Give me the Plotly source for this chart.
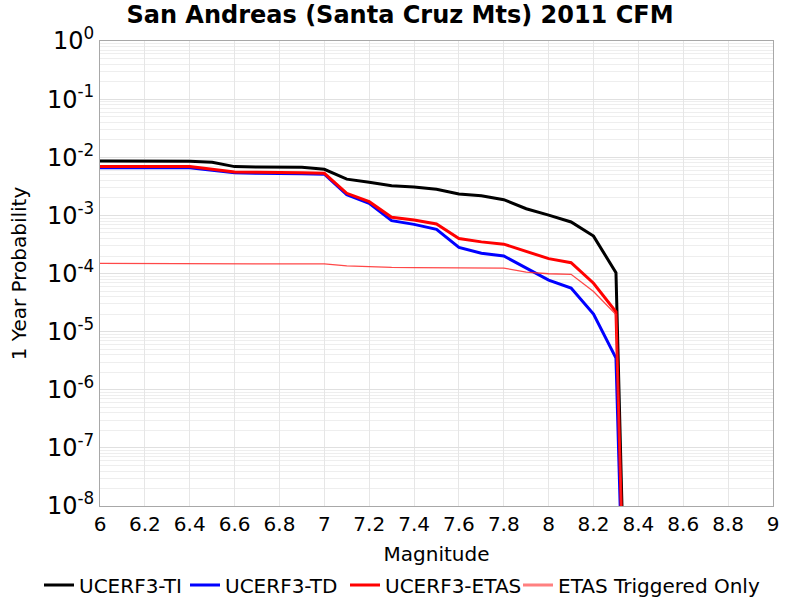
import plotly.graph_objects as go

magnitudes = [6.0, 6.1, 6.2, 6.3, 6.4, 6.5, 6.6, 6.7, 6.8, 6.9, 7.0, 7.1, 7.2,
              7.3, 7.4, 7.5, 7.6, 7.7, 7.8, 7.9, 8.0, 8.1, 8.2, 8.3, 8.4]

ucerf3_ti = [8.6e-3, 8.6e-3, 8.6e-3, 8.6e-3, 8.5e-3, 8.2e-3, 6.9e-3, 6.8e-3, 6.8e-3,
             6.7e-3, 6.2e-3, 4.2e-3, 3.7e-3, 3.24e-3, 3.08e-3, 2.81e-3, 2.33e-3,
             2.18e-3, 1.86e-3, 1.30e-3, 1.01e-3, 7.7e-4, 4.4e-4, 1.03e-4, 1e-19]

ucerf3_td = [6.6e-3, 6.6e-3, 6.6e-3, 6.6e-3, 6.6e-3, 6.0e-3, 5.4e-3, 5.3e-3, 5.3e-3,
             5.2e-3, 5.1e-3, 2.27e-3, 1.61e-3, 8.1e-4, 7.0e-4, 5.75e-4, 2.82e-4,
             2.23e-4, 2.0e-4, 1.23e-4, 7.7e-5, 5.6e-5, 2.0e-5, 3.5e-6, 1e-19]

ucerf3_etas = [6.9e-3, 6.9e-3, 6.9e-3, 6.9e-3, 6.9e-3, 6.2e-3, 5.6e-3, 5.5e-3, 5.5e-3,
               5.4e-3, 5.3e-3, 2.4e-3, 1.72e-3, 9.3e-4, 8.3e-4, 7.1e-4, 4.0e-4,
               3.5e-4, 3.2e-4, 2.37e-4, 1.80e-4, 1.53e-4, 6.8e-5, 2.2e-5, 1e-19]

etas_triggered = [1.49e-4, 1.49e-4, 1.49e-4, 1.49e-4, 1.49e-4, 1.48e-4, 1.47e-4, 1.47e-4,
                  1.47e-4, 1.47e-4, 1.46e-4, 1.35e-4, 1.30e-4, 1.27e-4, 1.26e-4, 1.26e-4,
                  1.25e-4, 1.25e-4, 1.24e-4, 1.06e-4, 9.9e-5, 9.7e-5, 4.9e-5, 1.97e-5, 1e-19]

y_tick_vals = [1e-8, 1e-7, 1e-6, 1e-5, 1e-4, 1e-3, 1e-2, 1e-1, 1e0]
y_tick_text = ["10<sup>-8</sup>", "10<sup>-7</sup>", "10<sup>-6</sup>", "10<sup>-5</sup>",
               "10<sup>-4</sup>", "10<sup>-3</sup>", "10<sup>-2</sup>", "10<sup>-1</sup>",
               "10<sup>0</sup>"]

# name, values, line color, line width, legend id, legend symbol color
series = [
    ("UCERF3-TI", ucerf3_ti, "black", 3, "legend", "black"),
    ("UCERF3-TD", ucerf3_td, "blue", 3, "legend2", "blue"),
    ("UCERF3-ETAS", ucerf3_etas, "red", 3, "legend3", "red"),
    ("ETAS Triggered Only", etas_triggered, "rgba(255,40,40,0.85)", 1.3, "legend4", "#ff8080"),
]
legend_left_px = [39, 185, 345, 518]

font_family = "DejaVu Sans"
fig = go.Figure()
for name, vals, color, width, leg, legcolor in series:
    thin = width < 2
    fig.add_trace(go.Scatter(x=magnitudes, y=vals, mode="lines", name=name,
                             line=dict(color=color, width=width),
                             showlegend=not thin, legend=leg))
    if thin:
        # legend-only entry drawn with the reference's thicker, lighter key line
        fig.add_trace(go.Scatter(x=[None], y=[None], mode="lines", name=name,
                                 line=dict(color=legcolor, width=3), legend=leg,
                                 hoverinfo="skip"))

legend_common = dict(orientation="h", xref="container", xanchor="left",
                     yref="container", y=1 - 585 / 600, yanchor="middle",
                     font=dict(size=20, family=font_family, color="black"),
                     bgcolor="rgba(0,0,0,0)", borderwidth=0)

fig.update_layout(
    width=800, height=600,
    margin=dict(l=100, r=27, t=41, b=94, autoexpand=False),
    paper_bgcolor="white", plot_bgcolor="white",
    font=dict(family=font_family, color="black", size=20),
    title=dict(text="<b>San Andreas (Santa Cruz Mts) 2011 CFM</b>",
               x=0.5, xref="container", xanchor="center",
               y=1 - 15 / 600, yref="container", yanchor="middle",
               font=dict(size=24, family=font_family, color="black")),
    showlegend=True,
    legend=dict(x=legend_left_px[0] / 800, **legend_common),
    legend2=dict(x=legend_left_px[1] / 800, **legend_common),
    legend3=dict(x=legend_left_px[2] / 800, **legend_common),
    legend4=dict(x=legend_left_px[3] / 800, **legend_common),
)

fig.update_xaxes(
    range=[6, 9], dtick=0.2, tick0=6, showgrid=True, gridcolor="#e6e6e6", gridwidth=1,
    showline=True, linecolor="#a8a8a8", linewidth=1, mirror=True, zeroline=False,
    ticks="", tickfont=dict(size=20),
    title=dict(text="Magnitude", font=dict(size=20), standoff=12),
)
fig.update_yaxes(
    type="log", range=[-8, 0], tickmode="array", tickvals=y_tick_vals, ticktext=y_tick_text,
    showgrid=True, gridcolor="#e0e0e0", gridwidth=1,
    minor=dict(showgrid=True, dtick="D1", gridcolor="#eeeeee", gridwidth=1, ticks=""),
    showline=True, linecolor="#a8a8a8", linewidth=1, mirror=True, zeroline=False,
    ticks="", tickfont=dict(size=24),
    title=dict(text="1 Year Probability", font=dict(size=20), standoff=14),
)

fig.write_html("out.html")
